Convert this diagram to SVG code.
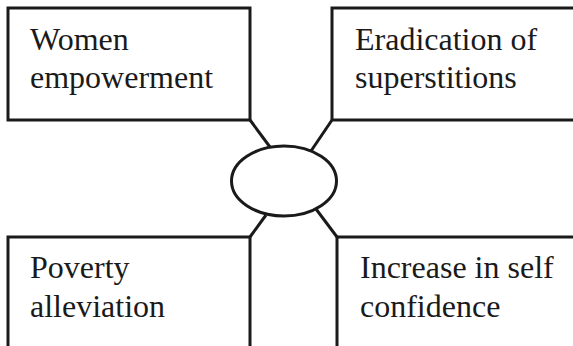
<svg xmlns="http://www.w3.org/2000/svg" width="573" height="346" viewBox="0 0 573 346">
<style>
.box{fill:#fff;stroke:#1a1a1a;stroke-width:3}
.lbl{font-family:"Liberation Serif","Times New Roman",serif;font-size:32px;fill:#1a1a1a}
.con{stroke:#1a1a1a;stroke-width:3;fill:none}
</style>
<rect width="573" height="346" fill="#fff"/>
<g id="connectors">
<line class="con" x1="250" y1="120" x2="270" y2="147"/>
<line class="con" x1="332" y1="120" x2="311" y2="151"/>
<line class="con" x1="250" y1="237" x2="266" y2="215"/>
<line class="con" x1="337" y1="237" x2="316" y2="209"/>
</g>
<g id="center">
<ellipse class="box" cx="284" cy="181" rx="52.5" ry="35"/>
</g>
<g id="women">
<rect class="box" x="8" y="8" width="242" height="112"/>
<text class="lbl" x="30" y="50">Women</text>
<text class="lbl" x="30" y="88">empowerment</text>
</g>
<g id="eradication">
<rect class="box" x="332" y="8" width="250" height="112"/>
<text class="lbl" x="355" y="50">Eradication of</text>
<text class="lbl" x="355" y="88">superstitions</text>
</g>
<g id="poverty">
<rect class="box" x="8" y="237" width="242" height="120"/>
<text class="lbl" x="30" y="278">Poverty</text>
<text class="lbl" x="30" y="317">alleviation</text>
</g>
<g id="confidence">
<rect class="box" x="337" y="237" width="250" height="120"/>
<text class="lbl" x="360" y="278">Increase in self</text>
<text class="lbl" x="360" y="317">confidence</text>
</g>
</svg>
